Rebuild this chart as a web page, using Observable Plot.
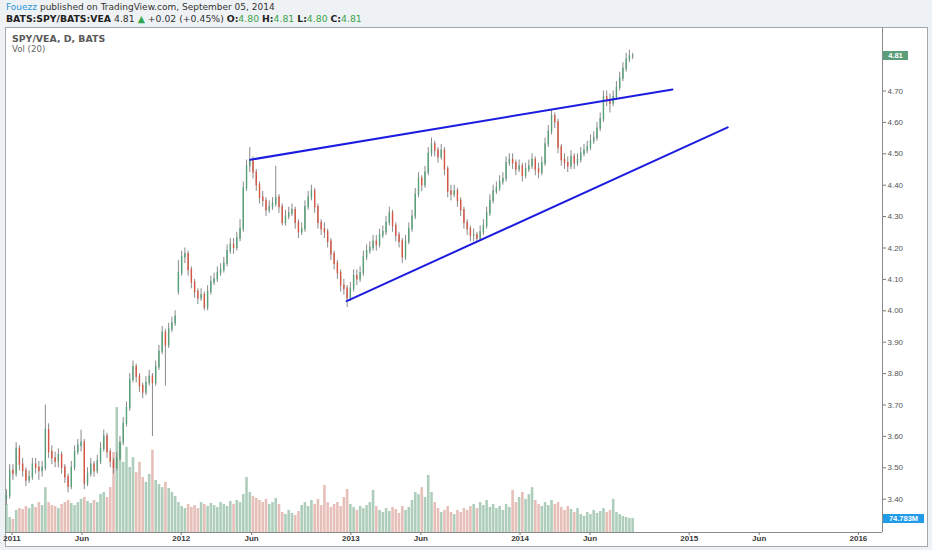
<!DOCTYPE html>
<html><head><meta charset="utf-8">
<script src="https://cdn.jsdelivr.net/npm/d3@7"></script>
<script src="https://cdn.jsdelivr.net/npm/@observablehq/plot@0.6"></script>
<style>
html,body{margin:0;padding:0;background:#eff2f5;width:932px;height:550px;overflow:hidden;font-family:"DejaVu Sans",sans-serif}
.hdr{position:absolute;left:6px;white-space:nowrap;line-height:11px;height:11px;color:#333}
#hdr1{top:1.5px;font-size:9px}
#hdr2{top:13px;font-size:9.3px}
.b{font-weight:700;color:#222}
.g{color:#3aa34a}
#panel{position:absolute;left:5px;top:27px;width:923px;height:520px;background:#fff;border:1px solid #a3a8ad;box-sizing:border-box}
.svgwrap{position:absolute;left:0;top:27px}
#leg1{position:absolute;left:12px;top:32.5px;font-size:9.4px;line-height:11px;height:11px;font-weight:700;color:#5a5a5a}
#leg2{position:absolute;left:12px;top:44px;font-size:8.6px;line-height:11px;height:11px;color:#666}
.tag{position:absolute;left:883px;height:9px;line-height:9px;font-family:"Liberation Sans",Arial,sans-serif;font-size:7.5px;font-weight:700;color:#fff;text-align:center}
</style></head>
<body>
<div id="hdr1" class="hdr"><span style="color:#2a96d6">Fouezz</span> published on TradingView.com, September 05, 2014</div>
<div id="hdr2" class="hdr"><span class="b">BATS:SPY/BATS:VEA</span> 4.81 <span style="color:#2fa84f">&#9650;</span> +0.02 (+0.45%) <span class="b">O:</span><span class="g">4.80</span> <span class="b">H:</span><span class="g">4.81</span> <span class="b">L:</span><span class="g">4.80</span> <span class="b">C:</span><span class="g">4.81</span></div>
<div id="panel"></div>
<div id="volwrap" class="svgwrap"></div>
<div id="pricewrap" class="svgwrap"></div>
<div id="leg1">SPY/VEA, D, BATS</div>
<div id="leg2">Vol (20)</div>
<script>
// ---- data (weekly candles) ----
const opens = [3.40,3.41,3.49,3.48,3.56,3.51,3.49,3.46,3.47,3.51,
 3.50,3.49,3.50,3.62,3.55,3.53,3.52,3.54,3.50,3.47,
 3.44,3.50,3.55,3.57,3.58,3.45,3.48,3.51,3.49,3.52,
 3.56,3.60,3.55,3.52,3.50,3.53,3.58,3.64,3.69,3.78,
 3.82,3.79,3.76,3.74,3.77,3.79,3.77,3.82,3.87,3.93,
 3.89,3.94,3.96,4.06,4.12,4.17,4.18,4.13,4.09,4.06,
 4.04,4.05,4.01,4.06,4.09,4.10,4.12,4.13,4.15,4.19,
 4.21,4.20,4.23,4.26,4.39,4.46,4.48,4.44,4.40,4.36,
 4.35,4.32,4.33,4.34,4.36,4.33,4.28,4.30,4.31,4.32,
 4.28,4.25,4.26,4.33,4.36,4.38,4.33,4.28,4.26,4.25,
 4.22,4.18,4.15,4.12,4.08,4.07,4.04,4.07,4.11,4.10,
 4.12,4.17,4.19,4.20,4.22,4.21,4.24,4.25,4.28,4.31,
 4.27,4.24,4.22,4.17,4.22,4.26,4.30,4.37,4.42,4.40,
 4.44,4.50,4.53,4.51,4.49,4.51,4.45,4.38,4.37,4.38,
 4.35,4.32,4.28,4.26,4.24,4.24,4.23,4.25,4.27,4.31,
 4.35,4.38,4.39,4.41,4.42,4.47,4.48,4.47,4.45,4.46,
 4.43,4.45,4.46,4.48,4.45,4.44,4.47,4.53,4.57,4.62,
 4.60,4.52,4.48,4.47,4.46,4.49,4.47,4.48,4.50,4.51,
 4.52,4.54,4.55,4.58,4.61,4.68,4.67,4.66,4.68,4.71,
 4.74,4.77,4.80,4.81];
const highs = [3.43,3.51,3.51,3.58,3.57,3.53,3.50,3.49,3.53,3.53,
 3.52,3.52,3.70,3.64,3.57,3.55,3.56,3.55,3.51,3.48,
 3.52,3.57,3.59,3.62,3.59,3.50,3.53,3.52,3.54,3.58,
 3.62,3.61,3.56,3.53,3.55,3.60,3.66,3.71,3.80,3.84,
 3.83,3.80,3.77,3.79,3.81,3.80,3.84,3.89,3.95,3.94,
 3.96,3.98,4.00,4.16,4.19,4.20,4.19,4.14,4.10,4.07,
 4.07,4.06,4.08,4.11,4.12,4.14,4.15,4.17,4.21,4.23,
 4.23,4.25,4.29,4.41,4.48,4.52,4.49,4.45,4.41,4.38,
 4.36,4.35,4.36,4.46,4.37,4.34,4.32,4.33,4.34,4.33,
 4.29,4.28,4.35,4.38,4.40,4.39,4.34,4.29,4.28,4.26,
 4.23,4.19,4.16,4.13,4.10,4.08,4.09,4.13,4.13,4.14,
 4.19,4.21,4.22,4.24,4.24,4.26,4.27,4.30,4.33,4.32,
 4.28,4.25,4.23,4.24,4.28,4.32,4.39,4.44,4.43,4.46,
 4.52,4.55,4.54,4.52,4.53,4.52,4.46,4.40,4.40,4.39,
 4.36,4.33,4.29,4.27,4.26,4.25,4.27,4.29,4.33,4.37,
 4.40,4.41,4.43,4.44,4.49,4.50,4.50,4.48,4.48,4.47,
 4.47,4.48,4.50,4.49,4.47,4.49,4.55,4.59,4.64,4.63,
 4.61,4.53,4.50,4.49,4.51,4.50,4.50,4.52,4.53,4.54,
 4.56,4.57,4.60,4.63,4.70,4.70,4.69,4.70,4.73,4.76,
 4.79,4.82,4.83,4.82];
const lows = [3.38,3.40,3.46,3.47,3.49,3.47,3.44,3.45,3.46,3.48,
 3.46,3.47,3.49,3.53,3.51,3.50,3.50,3.48,3.45,3.42,
 3.43,3.49,3.54,3.55,3.43,3.44,3.47,3.47,3.48,3.51,
 3.55,3.53,3.50,3.48,3.49,3.52,3.57,3.63,3.68,3.77,
 3.77,3.74,3.72,3.73,3.76,3.60,3.76,3.81,3.86,3.76,
 3.88,3.93,3.95,4.05,4.11,4.15,4.11,4.07,4.04,4.02,
 4.03,4.00,4.00,4.05,4.08,4.09,4.11,4.12,4.14,4.18,
 4.18,4.19,4.22,4.25,4.38,4.44,4.42,4.38,4.34,4.33,
 4.30,4.31,4.32,4.33,4.31,4.27,4.27,4.29,4.30,4.26,
 4.23,4.24,4.25,4.32,4.35,4.31,4.26,4.24,4.23,4.20,
 4.16,4.13,4.10,4.06,4.05,4.01,4.03,4.06,4.08,4.09,
 4.11,4.16,4.18,4.19,4.19,4.20,4.23,4.24,4.27,4.25,
 4.22,4.20,4.15,4.16,4.21,4.25,4.29,4.36,4.38,4.39,
 4.43,4.49,4.49,4.47,4.48,4.43,4.36,4.35,4.36,4.33,
 4.30,4.26,4.24,4.22,4.22,4.22,4.22,4.24,4.26,4.30,
 4.34,4.37,4.38,4.40,4.41,4.46,4.45,4.43,4.44,4.41,
 4.42,4.44,4.45,4.43,4.42,4.43,4.46,4.52,4.56,4.58,
 4.50,4.46,4.45,4.44,4.45,4.45,4.46,4.47,4.49,4.50,
 4.51,4.53,4.54,4.57,4.60,4.65,4.63,4.65,4.67,4.70,
 4.73,4.76,4.79,4.80];
const closes = [3.41,3.49,3.48,3.56,3.51,3.49,3.46,3.47,3.51,3.50,
 3.49,3.50,3.62,3.55,3.53,3.52,3.54,3.50,3.47,3.44,
 3.50,3.55,3.57,3.58,3.45,3.48,3.51,3.49,3.52,3.56,
 3.60,3.55,3.52,3.50,3.53,3.58,3.64,3.69,3.78,3.82,
 3.79,3.76,3.74,3.77,3.79,3.77,3.82,3.87,3.93,3.89,
 3.94,3.96,3.98,4.12,4.17,4.18,4.13,4.09,4.06,4.04,
 4.05,4.01,4.06,4.09,4.10,4.12,4.13,4.15,4.19,4.21,
 4.20,4.23,4.26,4.39,4.46,4.48,4.44,4.40,4.36,4.35,
 4.32,4.33,4.34,4.36,4.33,4.28,4.30,4.31,4.32,4.28,
 4.25,4.26,4.33,4.36,4.38,4.33,4.28,4.26,4.25,4.22,
 4.18,4.15,4.12,4.08,4.07,4.04,4.07,4.11,4.10,4.12,
 4.17,4.19,4.20,4.22,4.21,4.24,4.25,4.28,4.31,4.27,
 4.24,4.22,4.17,4.22,4.26,4.30,4.37,4.42,4.40,4.44,
 4.50,4.53,4.51,4.49,4.51,4.45,4.38,4.37,4.38,4.35,
 4.32,4.28,4.26,4.24,4.24,4.23,4.25,4.27,4.31,4.35,
 4.38,4.39,4.41,4.42,4.47,4.48,4.47,4.45,4.46,4.43,
 4.45,4.46,4.48,4.45,4.44,4.47,4.53,4.57,4.62,4.60,
 4.52,4.48,4.47,4.46,4.49,4.47,4.48,4.50,4.51,4.52,
 4.54,4.55,4.58,4.61,4.68,4.67,4.66,4.68,4.71,4.74,
 4.77,4.80,4.81,4.81];
const volumes = [150,80,70,118,128,123,139,128,150,134,
 160,144,240,160,144,139,128,150,160,171,
 155,144,160,177,187,166,155,171,160,203,
 214,187,240,428,668,480,375,455,348,400,
 320,375,294,268,310,440,278,257,240,268,
 235,214,193,160,139,128,150,134,144,128,
 160,150,139,155,144,134,160,150,139,166,
 150,171,160,203,294,214,193,182,171,160,
 177,150,160,182,150,107,96,118,102,91,
 112,144,160,139,171,150,177,144,251,160,
 134,150,160,139,187,230,150,134,118,139,
 128,144,160,225,139,118,107,128,112,134,
 123,102,139,118,134,171,214,203,240,187,
 305,214,160,128,107,118,139,107,96,118,
 107,128,118,139,150,128,160,144,171,134,
 150,128,139,118,150,134,225,160,187,214,
 177,203,240,171,150,139,160,144,171,150,
 160,134,118,139,123,107,128,96,86,107,
 96,118,102,112,128,107,118,177,107,96,
 86,80,75,74.783];
const weekStarts = d3.utcMonday.range(new Date("2010-12-20T00:00Z"), new Date("2014-09-02T00:00Z"));

const priceTicks = [3.4,3.5,3.6,3.7,3.8,3.9,4.0,4.1,4.2,4.3,4.4,4.5,4.6,4.7];
const timeTicks = ["2011-01-01","2011-06-01","2012-01-01","2012-06-01","2013-01-01","2013-06-01","2014-01-01","2014-06-01","2015-01-01","2015-06-01","2016-01-01"].map(s => new Date(s + "T00:00Z"));
const timeTickLabels = ["2011","Jun","2012","Jun","2013","Jun","2014","Jun","2015","Jun","2016"];

const upperLine = [{date: new Date("2012-05-29T00:00Z"), price: 4.481}, {date: new Date("2014-11-26T00:00Z"), price: 4.705}];
const lowerLine = [{date: new Date("2012-12-23T00:00Z"), price: 4.031}, {date: new Date("2015-03-25T00:00Z"), price: 4.584}];

const lastPrice = 4.81;
const lastVolume = 74.783;

const xDomain = [new Date("2010-12-18T00:00Z"), new Date("2016-02-22T00:00Z")];
const yDomain = [3.2939, 4.9022];
const volDomain = [0, 2700];

// ---- build ----
const candles = weekStarts.map((date, i) => ({date, open: opens[i], high: highs[i], low: lows[i], close: closes[i], volume: volumes[i]}));
const up = d => d.close >= d.open;
const down = d => d.close < d.open;

const common = {
  width: 932, height: 523,
  marginLeft: 5, marginRight: 50, marginTop: 0, marginBottom: 18,
  x: {type: "utc", domain: xDomain},
  style: {background: "transparent", fontFamily: "'Liberation Sans', Arial, sans-serif", fontSize: "8px", color: "#555", overflow: "visible"}
};

const volPlot = Plot.plot({
  ...common,
  x: {...common.x, axis: null},
  y: {domain: volDomain, axis: null},
  marks: [
    Plot.ruleX(candles, {filter: up, x: "date", y1: () => 0, y2: "volume", stroke: "#6ba583", strokeOpacity: 0.55, strokeWidth: 2.6}),
    Plot.ruleX(candles, {filter: down, x: "date", y1: () => 0, y2: "volume", stroke: "#d07f74", strokeOpacity: 0.5, strokeWidth: 2.6})
  ]
});
document.getElementById("volwrap").appendChild(volPlot);

const pricePlot = Plot.plot({
  ...common,
  y: {domain: yDomain},
  marks: [
    Plot.ruleX(candles, {x: "date", y1: "low", y2: "high", stroke: "#8a8a8a", strokeWidth: 1}),
    Plot.ruleX(candles, {filter: up, x: "date", y1: "open", y2: "close", stroke: "#56a078", strokeWidth: 1.4, strokeLinecap: "square"}),
    Plot.ruleX(candles, {filter: down, x: "date", y1: "open", y2: "close", stroke: "#d75442", strokeWidth: 1.4, strokeLinecap: "square"}),
    Plot.line(upperLine, {x: "date", y: "price", stroke: "#1c1ce0", strokeWidth: 2}),
    Plot.line(lowerLine, {x: "date", y: "price", stroke: "#1c1ce0", strokeWidth: 2}),
    Plot.ruleX([xDomain[1]], {stroke: "#8a8a8a", strokeWidth: 1}),
    Plot.ruleY([yDomain[0]], {stroke: "#8a8a8a", strokeWidth: 1}),
    Plot.axisY({anchor: "right", ticks: priceTicks, tickFormat: d => d.toFixed(2), tickSize: 3, tickPadding: 2, label: null, fill: "#555", stroke: "#777"}),
    Plot.axisX({ticks: timeTicks, tickFormat: d => timeTickLabels[timeTicks.findIndex(t => +t === +d)], tickSize: 3, tickPadding: 0, label: null, fill: "#3a3a3a", fontWeight: "bold", stroke: "#777"})
  ]
});
document.getElementById("pricewrap").appendChild(pricePlot);

// value tags on the price scale
const yPx = pricePlot.scale("y").apply(lastPrice) + 27;
const vPx = volPlot.scale("y").apply(lastVolume) + 27;
const t1 = document.createElement("div");
t1.className = "tag"; t1.textContent = lastPrice.toFixed(2);
Object.assign(t1.style, {top: (yPx - 4.5) + "px", width: "25px", background: "#5b9e7a"});
document.body.appendChild(t1);
const t2 = document.createElement("div");
t2.className = "tag"; t2.textContent = lastVolume.toFixed(3) + "M";
Object.assign(t2.style, {top: (vPx - 4.5) + "px", width: "41px", background: "#1f9be8"});
document.body.appendChild(t2);
</script>
</body></html>
